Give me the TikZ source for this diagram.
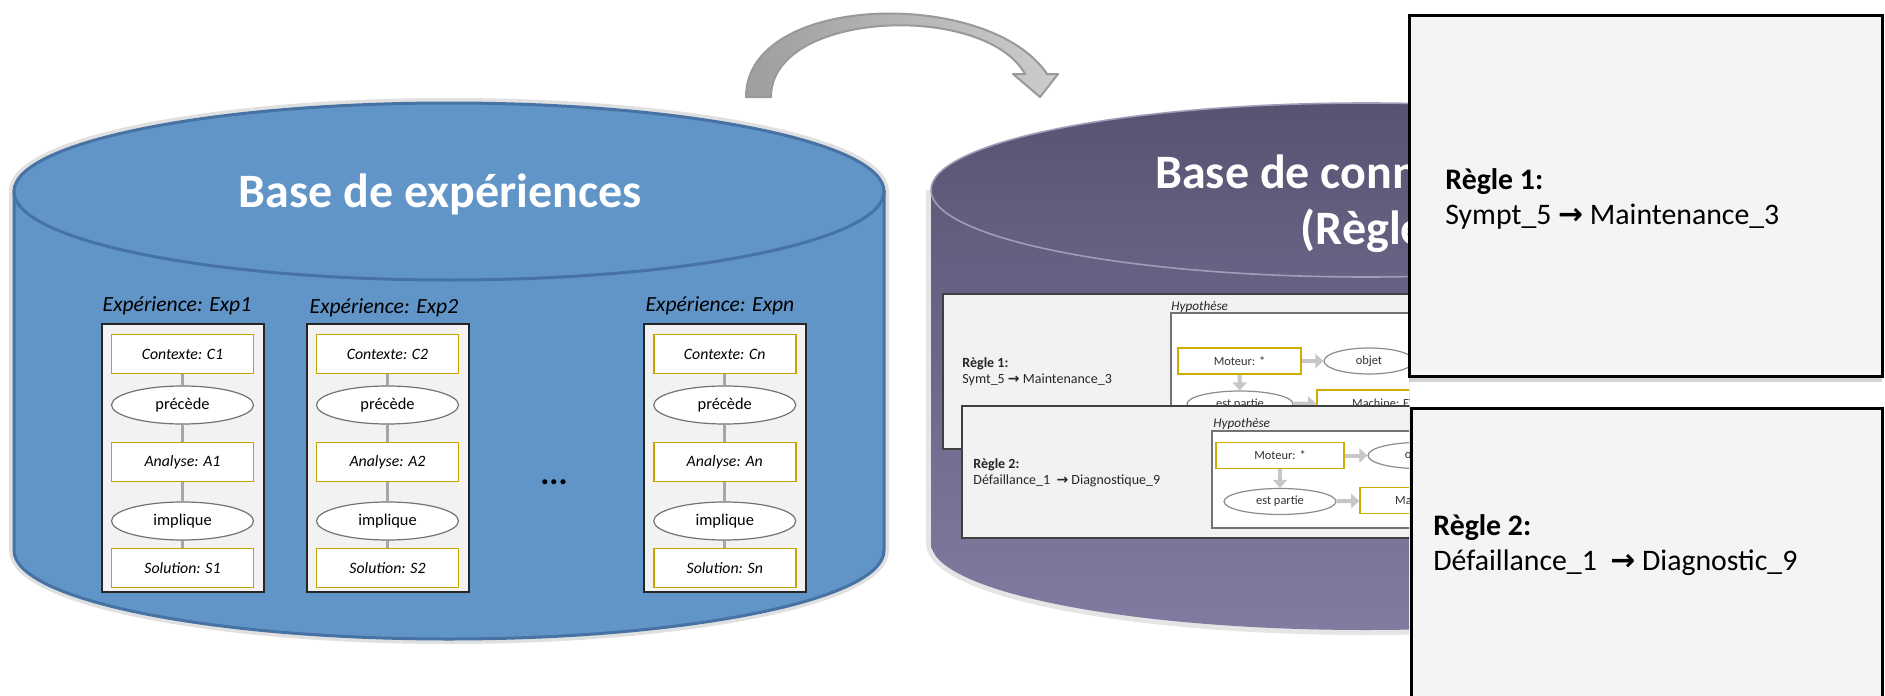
\documentclass[tikz,border=0pt]{standalone}
\usepackage{fontspec}
\setmainfont{Carlito}
\newfontfamily\arrowfont{DejaVu Sans}
\usetikzlibrary{positioning,arrows.meta,shapes.geometric,shadows}

\definecolor{expblue}{HTML}{6195C8}
\definecolor{expline}{HTML}{4672A4}
\definecolor{kbdark}{HTML}{605A7B}
\definecolor{kblight}{HTML}{807CA1}
\definecolor{gold}{HTML}{C8A400}
\definecolor{panelfill}{HTML}{F2F2F2}
\definecolor{rulefill}{HTML}{F4F4F4}
\definecolor{linkgray}{HTML}{A6A6A6}

\newcommand{\rarr}{{\arrowfont\bfseries\char"2192}}

\begin{document}
\begin{tikzpicture}[x=0.5pt, y=-0.5pt,
    concept/.style={draw=gold, line width=0.9pt, fill=white, minimum width=71pt, minimum height=19.5pt, inner sep=0pt, font=\fontsize{7.9}{9}\selectfont\itshape},
    relation/.style={ellipse, draw=black!55, line width=0.6pt, fill=white, minimum width=71pt, minimum height=19pt, inner sep=0pt, font=\fontsize{8.2}{9}\selectfont},
    linkline/.style={linkgray, line width=1.5pt},
    miniconcept/.style={draw=gold!90!yellow, line width=0.8pt, fill=white, minimum height=13pt, inner sep=0pt, font=\fontsize{6.2}{7}\selectfont, text=black!80},
    minirelation/.style={ellipse, draw=black!45, line width=0.6pt, fill=white, minimum height=13pt, inner sep=0pt, font=\fontsize{6.2}{7}\selectfont, text=black!80},
    miniarrow/.style={-{Triangle[length=4pt,width=7pt]}, black!22, line width=2pt},
    paneltext/.style={anchor=base west, inner sep=0pt, font=\fontsize{7}{8}\selectfont, text=black!85},
    ruletext/.style={anchor=base west, inner sep=0pt, font=\fontsize{14.9}{17}\selectfont},
    bigtitle/.style={anchor=base, text=white, font=\fontsize{24}{28}\selectfont\bfseries}]

    \useasboundingbox (0,0) rectangle (1885,696);
    \clip (0,0) rectangle (1885,696);

    % =========================================================================
    % Curved block arrow between the two bases
    % =========================================================================
    \filldraw[left color=black!38, right color=black!20, draw=black!40, line width=1pt, line join=round]
        (746,97) .. controls (746,-8) and (990,-12) .. (1047,74)
        -- (1058,74) -- (1040,97) -- (1013,74) -- (1025,74)
        .. controls (985,2) and (771,10) .. (771,97) -- cycle;

    % =========================================================================
    % LEFT: Base de experiences
    % =========================================================================
    \draw[black!12, line width=5pt] (14,191.5) -- (14,550.5) arc[start angle=180, end angle=0, x radius=435, y radius=88.5] -- (884,191.5) arc[start angle=0, end angle=-180, x radius=435, y radius=88.5];
    \filldraw[fill=expblue, draw=expline, line width=1.5pt] (14,191.5) -- (14,550.5) arc[start angle=180, end angle=0, x radius=435, y radius=88.5] -- (884,191.5) -- cycle;
    \filldraw[fill=expblue, draw=expline, line width=1.5pt] (449,191.5) ellipse[x radius=435, y radius=88.5];
    \node[bigtitle] (exptitle) at (440,207) {Base de expériences};

    % one column per experience
    \foreach \i/\cx/\lx/\ly/\tag in {1/182.5/177/311/1, 2/387.5/384/313/2, 3/724.75/720/311/n} {
        \node[draw=black!85, fill=panelfill, line width=1pt, minimum width=81pt, minimum height=134pt, inner sep=0pt] (exp\i) at (\cx,458) {};
        \node[anchor=base, inner sep=0pt, font=\fontsize{10.8}{12}\selectfont\itshape] (explabel\i) at (\lx,\ly) {Expérience: Exp\tag};
        \node[concept] (ctx\i) at (\cx,354) {Contexte: C\tag};
        \node[relation] (prec\i) at (\cx,405) {précède};
        \node[concept] (ana\i) at (\cx,462) {Analyse: A\tag};
        \node[relation] (impl\i) at (\cx,521) {implique};
        \node[concept] (sol\i) at (\cx,568) {Solution: S\tag};
        \draw[linkline] (ctx\i) -- (prec\i);
        \draw[linkline] (prec\i) -- (ana\i);
        \draw[linkline] (ana\i) -- (impl\i);
        \draw[linkline] (impl\i) -- (sol\i);
    }
    \node[font=\fontsize{17}{18}\selectfont\bfseries] (moredots) at (554,482) {...};

    % =========================================================================
    % RIGHT: Base de connaissances (cut off by the rule cards)
    % =========================================================================
    \begin{scope}
        \clip (900,0) rectangle (1409,696);
        \draw[black!10, line width=5pt] (931,190) -- (931,543) arc[start angle=180, end angle=0, x radius=435, y radius=87];
        \shade[top color=kbdark, bottom color=kblight] (931,190) -- (931,543) arc[start angle=180, end angle=0, x radius=435, y radius=87] -- (1801,190) -- cycle;
        \shade[top color=kbdark!92!black, bottom color=kbdark!75!kblight] (1366,190) ellipse[x radius=435, y radius=87];
        \draw[kblight!75!white, line width=0.8pt] (1366,190) ellipse[x radius=435, y radius=87];
        \node[bigtitle] (kbtitle) at (1380,188) {Base de connaissances};
        \node[bigtitle] (kbsub) at (1380,244) {(Règles)};

        % rule 1 snapshot
        \filldraw[fill=panelfill, draw=black!75, line width=1pt, drop shadow={shadow xshift=1pt, shadow yshift=-1pt, opacity=0.3}] (943,294) rectangle (1440,449);
        \node[paneltext, font=\fontsize{7}{8}\selectfont\bfseries] (r1head) at (962,367) {Règle 1:};
        \node[paneltext] (r1body) at (962,383) {Symt\_5 \rarr{} Maintenance\_3};
        \node[paneltext, font=\fontsize{6.6}{8}\selectfont\itshape] (hyp1) at (1171,310) {Hypothèse};
        \filldraw[fill=white, draw=black!55, line width=0.8pt] (1171,313) rectangle (1440,440);
        \node[miniconcept, minimum width=61.5pt] (mot1) at (1239.5,361) {Moteur: *};
        \node[minirelation, minimum width=45pt] (obj1) at (1369,361) {objet};
        \node[minirelation, minimum width=53pt] (part1) at (1240,404) {est partie};
        \node[miniconcept, minimum width=70pt] (mach1) at (1387,403) {Machine: EX7};
        \draw[miniarrow] (mot1) -- (obj1);
        \draw[miniarrow] (mot1) -- (part1);
        \draw[miniarrow] (part1) -- (mach1);

        % rule 2 snapshot
        \filldraw[fill=panelfill, draw=black!75, line width=1pt, drop shadow={shadow xshift=1pt, shadow yshift=-1pt, opacity=0.3}] (962,406) rectangle (1440,538);
        \node[paneltext, font=\fontsize{7}{8}\selectfont\bfseries] (r2head) at (973,468) {Règle 2:};
        \node[paneltext] (r2body) at (973,484) {Défaillance\_1~ \rarr{} Diagnostique\_9};
        \node[paneltext, font=\fontsize{6.6}{8}\selectfont\itshape] (hyp2) at (1213,427) {Hypothèse};
        \filldraw[fill=white, draw=black!55, line width=0.8pt] (1212,431) rectangle (1440,528);
        \node[miniconcept, minimum width=64pt] (mot2) at (1280,455.5) {Moteur: *};
        \node[minirelation, minimum width=50pt] (obj2) at (1418,455.5) {objet};
        \node[minirelation, minimum width=56pt] (part2) at (1280,501.5) {est partie};
        \node[miniconcept, minimum width=70pt] (mach2) at (1430,500.5) {Machine: EX7};
        \draw[miniarrow] (mot2) -- (obj2);
        \draw[miniarrow] (mot2) -- (part2);
        \draw[miniarrow] (part2) -- (mach2);
    \end{scope}

    % =========================================================================
    % Rule cards on the right
    % =========================================================================
    \filldraw[fill=rulefill, draw=black, line width=1.5pt, drop shadow={shadow xshift=0pt, shadow yshift=-3pt, opacity=0.35}] (1409,15) rectangle (1882,376);
    \node[ruletext, font=\fontsize{14.9}{17}\selectfont\bfseries] (rule1head) at (1445,189) {Règle 1:};
    \node[ruletext] (rule1body) at (1445,224) {Sympt\_5 \rarr{} Maintenance\_3};

    \filldraw[fill=rulefill, draw=black, line width=1.5pt, drop shadow={shadow xshift=0pt, shadow yshift=-3pt, opacity=0.35}] (1411,408) rectangle (1882,720);
    \node[ruletext, font=\fontsize{14.9}{17}\selectfont\bfseries] (rule2head) at (1433,535) {Règle 2:};
    \node[ruletext] (rule2body) at (1433,570) {Défaillance\_1~ \rarr{} Diagnostic\_9};

\end{tikzpicture}
\end{document}
